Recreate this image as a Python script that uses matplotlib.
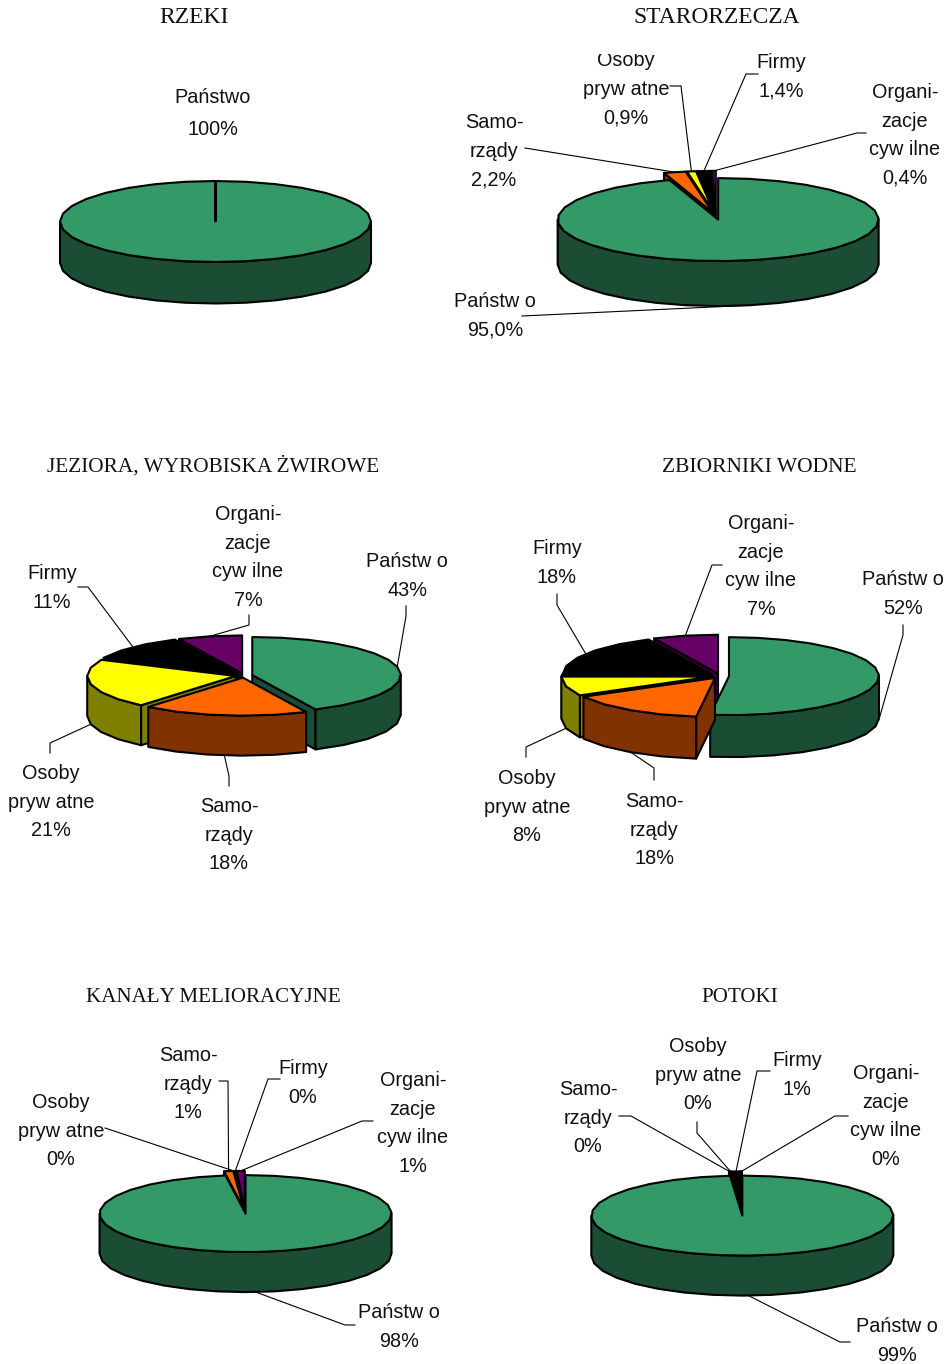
"""Six 3D pie charts of water body ownership."""

import matplotlib
matplotlib.use("Agg")
import matplotlib.pyplot as plt
from matplotlib.patches import Rectangle
import numpy as np

plt.rcParams["font.family"] = ["Liberation Sans", "DejaVu Sans"]

FILL = ["#339966", "#FF6600", "#FFFF00", "#000000", "#660066"]
SIDE = ["#1A4D33", "#803300", "#808000", "#000000", "#330033"]

# slice shares in clockwise order from 12 o'clock:
# Panstwo, Samorzady, Osoby prywatne, Firmy, Organizacje cywilne
rzeki_values = [100]
starorzecza_values = [95.0, 2.2, 0.9, 1.4, 0.4]
jeziora_values = [43, 18, 21, 11, 7]
zbiorniki_values = [52, 15, 8, 18, 7]
kanaly_values = [97.8, 1.0, 0.1, 0.2, 0.9]
potoki_values = [98.7, 0.1, 0.1, 1.0, 0.1]

starorzecza_pct = ["95,0%", "2,2%", "0,9%", "1,4%", "0,4%"]
jeziora_pct = ["43%", "18%", "21%", "11%", "7%"]
zbiorniki_pct = ["52%", "18%", "8%", "18%", "7%"]
kanaly_pct = ["98%", "1%", "0%", "0%", "1%"]
potoki_pct = ["99%", "0%", "0%", "1%", "0%"]

NAMES = [
    ["Państw o"],
    ["Samo-", "rządy"],
    ["Osoby", "pryw atne"],
    ["Firmy"],
    ["Organi-", "zacje", "cyw ilne"],
]

# layout only: pie geometry, label centres and leader elbows, in pixels
CHARTS = [
    dict(title="RZEKI", title_xy=(194, 23), title_size=17, values=rzeki_values,
         pct=["100%"], names=[["Państwo"]], center=(215.5, 221.5), rx=155.5, ry=40.5, depth=41.5, explode=0,
         label_xy=[(213, 96)], pitch=32, elbows=[None]),
    dict(title="STARORZECZA", title_xy=(717, 23), title_size=16.9, values=starorzecza_values,
         pct=starorzecza_pct, names=NAMES, center=(716, 216), rx=160.5, ry=41.5, depth=45, explode=14,
         label_xy=[(495, 300), (494, 121), (626, 59), (781, 61), (905, 91)], clip_label=2, clip_top=54,
         elbows=[[(522, 316)], [(525, 148)], [(681, 86), (670, 86)], [(746, 74), (758, 74)],
                 [(857, 133), (866, 133)]]),
    dict(title="JEZIORA, WYROBISKA ŻWIROWE", title_xy=(213, 472), title_size=15.3, values=jeziora_values,
         pct=jeziora_pct, names=NAMES, center=(244, 675.5), rx=148.5, ry=38, depth=40, explode=8.5,
         label_xy=[(407, 560), (229, 805), (51, 772), (52, 572), (248, 513)],
         elbows=[[(406, 616), (406, 606)], [(229, 776), (229, 786)], [(50, 743), (50, 753)],
                 [(88, 587), (78, 587)], [(249, 625), (249, 615)]]),
    dict(title="ZBIORNIKI WODNE", title_xy=(759, 472), title_size=15.5, values=zbiorniki_values,
         pct=zbiorniki_pct, names=NAMES, center=(720, 676), rx=150, ry=39, depth=42, explode=9,
         label_xy=[(903, 578), (654, 800), (527, 777), (557, 547), (761, 522)],
         elbows=[[(903, 635), (903, 625)], [(654, 768), (654, 780)], [(526, 747), (526, 757)],
                 [(557, 605), (557, 594)], [(712, 565), (722, 565)]]),
    dict(title="KANAŁY MELIORACYJNE", title_xy=(213, 1002), title_size=15.1, values=kanaly_values,
         pct=kanaly_pct, names=NAMES, center=(245, 1211.5), rx=146, ry=38.5, depth=40, explode=8,
         label_xy=[(399, 1311), (188, 1054), (61, 1101), (303, 1067), (413, 1079)],
         elbows=[[(345, 1325), (355, 1325)], [(228, 1081), (219, 1081)], [(105, 1128)],
                 [(268, 1079), (280, 1079)], [(362, 1121), (373, 1121)]]),
    dict(title="POTOKI", title_xy=(740, 1002), title_size=15.1, values=potoki_values,
         pct=potoki_pct, names=NAMES, center=(742, 1213.5), rx=151, ry=40, depth=40, explode=8,
         label_xy=[(897, 1325), (588, 1088), (698, 1045), (797, 1059), (886, 1072)],
         elbows=[[(840, 1342), (850, 1342)], [(631, 1116), (619, 1116)], [(697, 1133), (697, 1122)],
                 [(757, 1071), (770, 1071)], [(835, 1116), (848, 1116)]]),
]


def arc_points(apex, rx, ry, start, end):
    n = max(2, int(abs(end - start) / 11) + 1)
    theta = np.radians(np.linspace(start, end, n))
    return apex[0] + rx * np.sin(theta), apex[1] - ry * np.cos(theta)


def draw_slice(ax, apex, start, end, rx, ry, depth, fill, side, z):
    # radial cut faces, only those turned towards the viewer
    for angle, visible in ((start, np.sin(np.radians(start)) < -1e-6), (end, np.sin(np.radians(end)) > 1e-6)):
        if visible:
            ex, ey = arc_points(apex, rx, ry, angle, angle + 1e-6)
            ax.fill([apex[0], ex[0], ex[0], apex[0]], [apex[1], ey[0], ey[0] + depth, apex[1] + depth],
                    fc=side, ec="black", lw=1.5, zorder=z, joinstyle="round")

    # outer rim on the near half of the disc
    lo, hi = max(start, 90), min(end, 270)
    if hi > lo:
        x, y = arc_points(apex, rx, ry, lo, hi)
        ax.fill(np.r_[x, x[::-1]], np.r_[y, y[::-1] + depth], fc=side, ec="black", lw=1.5,
                zorder=z, joinstyle="round")

    x, y = arc_points(apex, rx, ry, start, end)
    ax.fill(np.r_[apex[0], x], np.r_[apex[1], y], fc=fill, ec="black", lw=1.5, zorder=z, joinstyle="round")


def draw_chart(ax, chart):
    cx, cy = chart["center"]
    rx, ry, depth = chart["rx"], chart["ry"], chart["depth"]
    values = np.array(chart["values"], dtype=float)
    edges = np.r_[0, np.cumsum(values) / values.sum() * 360]
    mids = (edges[:-1] + edges[1:]) / 2
    pitch = chart.get("pitch", 28.6)

    ax.text(*chart["title_xy"], chart["title"], family="Liberation Serif", fontsize=chart["title_size"],
            ha="center", va="baseline", color="#111111")

    apexes = []
    for mid in mids:
        rad = np.radians(mid)
        apexes.append((cx + chart["explode"] * np.sin(rad), cy - chart["explode"] * ry / rx * np.cos(rad)))

    for i, mid in enumerate(mids):
        x0, y0 = chart["label_xy"][i]
        lines = chart["names"][i] + [chart["pct"][i]]
        for k, line in enumerate(lines):
            t = ax.text(x0, y0 + k * pitch + 7, line, fontsize=14.3, ha="center", va="baseline", color="#111111")
            # the original crops the one label that runs off its chart area
            if chart.get("clip_label") == i:
                t.set_clip_path(Rectangle((0, chart["clip_top"]), 950, 1364, transform=ax.transData))
                t.set_clip_on(True)

        if chart["elbows"][i] is None:
            continue
        ex, ey = arc_points(apexes[i], rx, ry, mid, mid + 1e-6)
        end_y = ey[0] + (depth if 90 < mid < 270 else 0)
        px = [ex[0]] + [p[0] for p in chart["elbows"][i]]
        py = [end_y] + [p[1] for p in chart["elbows"][i]]
        ax.plot(px, py, color="black", lw=0.8, zorder=1)

    # back slices first so the near ones cover them
    order = np.argsort(-np.cos(np.radians(mids)))
    for z, i in enumerate(order):
        draw_slice(ax, apexes[i], edges[i], edges[i + 1], rx, ry, depth, FILL[i], SIDE[i], 2 + z)


def main():
    fig = plt.figure(figsize=(9.5, 13.64), dpi=100)
    ax = fig.add_axes([0, 0, 1, 1])
    ax.set_xlim(0, 950)
    ax.set_ylim(1364, 0)
    ax.axis("off")

    for chart in CHARTS:
        draw_chart(ax, chart)

    fig.savefig("out.png", dpi=100)
    plt.close(fig)


if __name__ == "__main__":
    main()
